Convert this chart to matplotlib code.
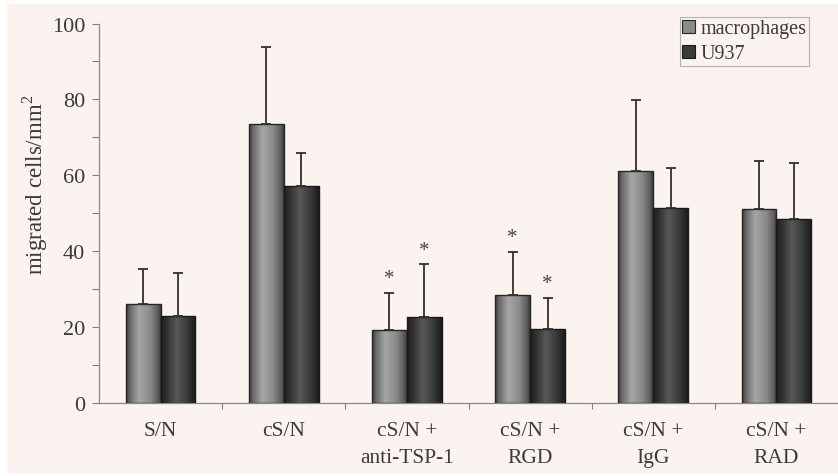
import numpy as np
import matplotlib
matplotlib.use("Agg")
import matplotlib.pyplot as plt
from matplotlib.colors import LinearSegmentedColormap
from matplotlib.patches import Rectangle, Patch

categories = ["S/N", "cS/N", "cS/N +\nanti-TSP-1", "cS/N +\nRGD", "cS/N +\nIgG", "cS/N +\nRAD"]
series_names = ["macrophages", "U937"]
macro_vals = [26.0, 73.6, 19.3, 28.4, 61.2, 51.0]
macro_err = [9.2, 20.1, 9.8, 11.4, 18.7, 12.8]
u937_vals = [23.0, 57.2, 22.7, 19.6, 51.4, 48.6]
u937_err = [11.2, 8.7, 13.9, 8.1, 10.4, 14.6]
macro_star = [False, False, True, True, False, False]
u937_star = [False, False, True, True, False, False]
yticks = [0, 20, 40, 60, 80, 100]

BG = "#fbf3f0"
TXT = "#3a3a3a"
plt.rcParams['font.family'] = ['Liberation Serif', 'DejaVu Serif']
plt.rcParams['mathtext.fontset'] = 'custom'
plt.rcParams['mathtext.rm'] = 'Liberation Serif'

fig = plt.figure(figsize=(8.38, 4.77), dpi=100)
fig.patch.set_facecolor("white")
W, H = 838, 477
fig.patches.append(Rectangle((7 / W, 3 / H), 1 - 7 / W, 1 - 8 / H, transform=fig.transFigure,
                             facecolor=BG, edgecolor="none", zorder=-10))

ax = fig.add_axes([99 / W, 1 - 404 / H, 1 - 99 / W, (404 - 24.5) / H])
ax.set_facecolor("none")

x = np.arange(len(categories))
bw = 0.283

cmap_macro = LinearSegmentedColormap.from_list(
    "m", [(0, "#3c3c3c"), (0.12, "#6a6a6a"), (0.38, "#a6a6a6"), (0.7, "#8a8a8a"), (0.92, "#5c5c5c"), (1, "#3a3a3a")])
cmap_u = LinearSegmentedColormap.from_list(
    "u", [(0, "#1e1e1e"), (0.15, "#2e2e2e"), (0.45, "#585858"), (0.75, "#3a3a3a"), (1, "#1c1c1c")])

bars_m = ax.bar(x - bw / 2, macro_vals, bw, facecolor="none", edgecolor="#262626", linewidth=1.0, zorder=3)
bars_u = ax.bar(x + bw / 2, u937_vals, bw, facecolor="none", edgecolor="#1a1a1a", linewidth=1.0, zorder=3)

grad = np.linspace(0, 1, 256).reshape(1, -1)
for bars, cm in ((bars_m, cmap_macro), (bars_u, cmap_u)):
    for b in bars:
        bx, by = b.get_x(), b.get_y()
        w, h = b.get_width(), b.get_height()
        im = ax.imshow(grad, extent=[bx, bx + w, by, by + h], aspect="auto", cmap=cm,
                       interpolation="bicubic", zorder=2)
        im.set_clip_path(b)

ax.errorbar(x - bw / 2, macro_vals, yerr=[np.zeros(len(x)), macro_err], fmt="none",
            ecolor="#303030", elinewidth=1.3, capsize=3.5, capthick=1.3, zorder=4)
ax.errorbar(x + bw / 2, u937_vals, yerr=[np.zeros(len(x)), u937_err], fmt="none",
            ecolor="#303030", elinewidth=1.3, capsize=3.5, capthick=1.3, zorder=4)

for i in range(len(x)):
    if macro_star[i]:
        ax.text(x[i] - bw / 2, macro_vals[i] + macro_err[i] + 1.2, "*", ha="center", va="bottom",
                fontsize=15, color="#444444")
    if u937_star[i]:
        ax.text(x[i] + bw / 2, u937_vals[i] + u937_err[i] + 1.2, "*", ha="center", va="bottom",
                fontsize=15, color="#444444")

ax.set_xlim(-0.5, len(x) - 0.5)
ax.set_ylim(0, 100)
ax.set_yticks(yticks)
ax.set_yticks(np.arange(10, 100, 20), minor=True)
ax.set_xticks(x)
ax.set_xticklabels(categories, fontsize=15.5, color=TXT, linespacing=1.6)
ax.set_xticks(np.arange(0.5, len(x) - 0.5, 1), minor=True)
ax.tick_params(axis="x", which="major", length=0, pad=13)
ax.tick_params(axis="x", which="minor", length=4, direction="out", color="#808080", width=0.8)
ax.tick_params(axis="y", which="both", length=5, direction="out", color="#808080", width=0.8,
               labelsize=16, labelcolor=TXT, pad=5)
for s in ("top", "right"):
    ax.spines[s].set_visible(False)
for s in ("left", "bottom"):
    ax.spines[s].set_color("#8a8a8a")
    ax.spines[s].set_linewidth(0.9)

fig.text(35 / W, 1 - 185 / H, "migrated cells/mm$^{2}$", rotation=90, ha="center", va="center",
         fontsize=16.5, color=TXT)

handles = [Patch(facecolor="#8a8a8a", edgecolor="#262626", linewidth=0.8),
           Patch(facecolor="#3a3a3a", edgecolor="#1a1a1a", linewidth=0.8)]
leg = fig.legend(handles, series_names, loc="upper right", bbox_to_anchor=(809 / W, 1 - 18 / H),
                 fontsize=14.5, frameon=True, fancybox=False, handlelength=0.6, handleheight=0.6,
                 handletextpad=0.3, borderpad=0.12, labelspacing=0.3, borderaxespad=0)
leg.get_frame().set_edgecolor("#a0a0a0")
leg.get_frame().set_facecolor(BG)
leg.get_frame().set_linewidth(0.8)
for t in leg.get_texts():
    t.set_color(TXT)

fig.savefig("out.png", dpi=100, facecolor=fig.get_facecolor())
